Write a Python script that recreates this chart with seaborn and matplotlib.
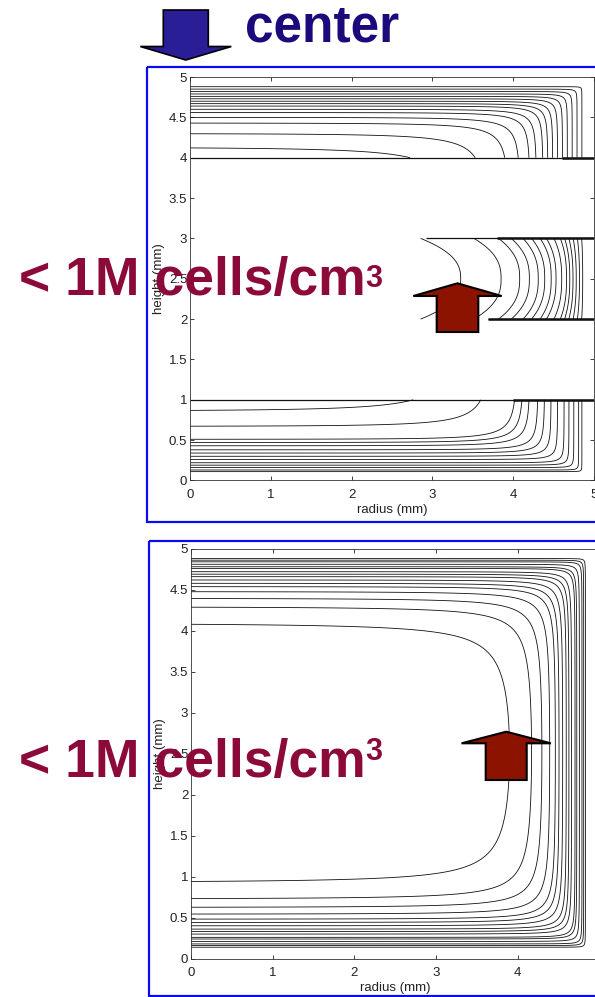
import numpy as np
import matplotlib
matplotlib.use("Agg")
import matplotlib.pyplot as plt
from matplotlib.patches import Rectangle, FancyArrow
from matplotlib.ticker import FormatStrFormatter
import seaborn as sns

# --- values (mm) ---
# upper panel: contour heights at r = 0 in the top and bottom cell layers
upper_top_band = [4.88, 4.85, 4.82, 4.79, 4.76, 4.73, 4.70, 4.67, 4.64, 4.60, 4.56, 4.50, 4.43, 4.30, 4.13]
upper_bottom_band = [0.11, 0.13, 0.16, 0.19, 0.22, 0.26, 0.30, 0.34, 0.38, 0.43, 0.47, 0.51, 0.67, 0.86]
# upper panel: contour radii at mid height of the middle cell layer
upper_middle_band = [3.35, 3.85, 4.08, 4.20, 4.31, 4.39, 4.47, 4.53, 4.60, 4.66, 4.70, 4.74, 4.78, 4.82, 4.86]
# layer boundaries (solid lines), where they start and where they get heavy
layer_edges = [4.0, 3.0, 2.0, 1.0]
layer_edge_start = [0.0, 2.92, 3.69, 0.0]
layer_edge_heavy = [4.6, 3.8, 3.69, 4.0]
# lower panel: contour heights at r = 0 (top half, mirrored at the bottom)
lower_heights = [4.88, 4.86, 4.84, 4.81, 4.78, 4.76, 4.72, 4.69, 4.66, 4.62, 4.58, 4.54, 4.48, 4.40, 4.30, 4.11]

x_ticks = [0, 1, 2, 3, 4, 5]
y_ticks = [0, 0.5, 1, 1.5, 2, 2.5, 3, 3.5, 4, 4.5, 5]

W, H = 595, 997

sns.set_theme(style="ticks", rc={
    "xtick.direction": "in", "ytick.direction": "in",
    "xtick.top": True, "ytick.right": True,
    "xtick.major.size": 3, "ytick.major.size": 3,
    "xtick.major.width": 0.6, "ytick.major.width": 0.6,
    "axes.linewidth": 0.6, "axes.edgecolor": "#333333",
})
plt.rcParams["font.family"] = ["Liberation Sans", "DejaVu Sans"]


def wall_field(dists, q):
    # soft minimum of the distances to the oxygen-supplying walls
    s = sum(np.power(np.clip(d, 1e-4, None), -q) for d in dists)
    return s ** (-1.0 / q)


def style_axes(ax):
    ax.set_xlim(0, 5)
    ax.set_ylim(0, 5)
    ax.set_xticks(x_ticks)
    ax.set_yticks(y_ticks)
    ax.xaxis.set_major_formatter(FormatStrFormatter("%g"))
    ax.yaxis.set_major_formatter(FormatStrFormatter("%g"))
    ax.tick_params(axis="x", labelsize=9.5, pad=6, colors="#222222")
    ax.tick_params(axis="y", labelsize=9.5, pad=2, colors="#222222")
    ax.set_xlabel("radius (mm)", fontsize=9.5, labelpad=2, color="#222222")
    ax.set_ylabel("height (mm)", fontsize=9.5, labelpad=3, color="#222222")


fig = plt.figure(figsize=(W / 100, H / 100), dpi=100)
ax1 = fig.add_axes([190 / W, 1 - 480.5 / H, 404 / W, 403.5 / H])
ax2 = fig.add_axes([191 / W, 1 - 958.7 / H, 408.5 / W, 410 / H])

line_kw = dict(colors="#111111", linewidths=0.6)

# upper panel, top layer
r = np.linspace(0, 4.95, 600)
z = np.linspace(4.0, 4.95, 240)
R, Z = np.meshgrid(r, z)
F = wall_field([4.92 - Z, (4.93 - R) / 2.0], 3)
ax1.contour(R, Z, F, levels=sorted(4.92 - np.array(upper_top_band)), **line_kw)

# upper panel, bottom layer
z = np.linspace(0.0, 1.0, 240)
R, Z = np.meshgrid(r, z)
F = wall_field([Z - 0.07, (4.93 - R) / 2.0], 3)
ax1.contour(R, Z, F, levels=sorted(np.array(upper_bottom_band) - 0.07), **line_kw)

# upper panel, middle layer
r = np.linspace(2.4, 4.95, 500)
z = np.linspace(2.0, 3.0, 240)
R, Z = np.meshgrid(r, z)
G = (4.9 - R) / (1 + 0.32 * np.abs(2 * (Z - 2.5)) ** 2.5)
ax1.contour(R, Z, G, levels=sorted(4.9 - np.array(upper_middle_band)), **line_kw)

ax1.hlines(layer_edges, layer_edge_start, 5, colors="#111111", lw=0.9)
ax1.hlines(layer_edges, layer_edge_heavy, 5, colors="#111111", lw=1.8)
style_axes(ax1)

# lower panel, one thick cell region
r = np.linspace(0, 4.95, 600)
z = np.linspace(0, 5, 800)
R, Z = np.meshgrid(r, z)
F = wall_field([4.93 - Z, Z - 0.09, (4.88 - R) / 1.05], 2)
ax2.contour(R, Z, F, levels=sorted(4.93 - np.array(lower_heights)), **line_kw)
style_axes(ax2)

# overlay in pixel coordinates for the slide annotations
ov = fig.add_axes([0, 0, 1, 1], zorder=5)
ov.set_xlim(0, W)
ov.set_ylim(H, 0)
ov.axis("off")

ov.add_patch(Rectangle((147, 67), 470, 455, fill=False, ec="#0A0AF5", lw=1.6))
ov.add_patch(Rectangle((149, 541), 470, 455, fill=False, ec="#0A0AF5", lw=1.6))

ov.add_patch(FancyArrow(185.8, 10, 0, 50, width=45, head_width=91, head_length=13.5,
                        length_includes_head=True, fc="#2A1E96", ec="black", lw=1.2))
ov.add_patch(FancyArrow(457.5, 332, 0, -48.7, width=41.6, head_width=88.4, head_length=12.7,
                        length_includes_head=True, fc="#8B1300", ec="black", lw=1.5))
ov.add_patch(FancyArrow(506.2, 780, 0, -48.3, width=41, head_width=89.3, head_length=11.6,
                        length_includes_head=True, fc="#8B1300", ec="black", lw=1.5))

ov.text(245, 42, "center", fontsize=37, fontweight="bold", color="#1C0A7C",
        ha="left", va="baseline")

red = "#8C0A3A"
for base, sup in [(295, 287), (777, 760)]:
    ov.text(19, base, "< 1M cells/cm", fontsize=38.5, fontweight="bold", color=red,
            ha="left", va="baseline")
    ov.text(365, sup, "3", fontsize=22, fontweight="bold", color=red,
            ha="left", va="baseline")

fig.savefig("out.png", dpi=100)
